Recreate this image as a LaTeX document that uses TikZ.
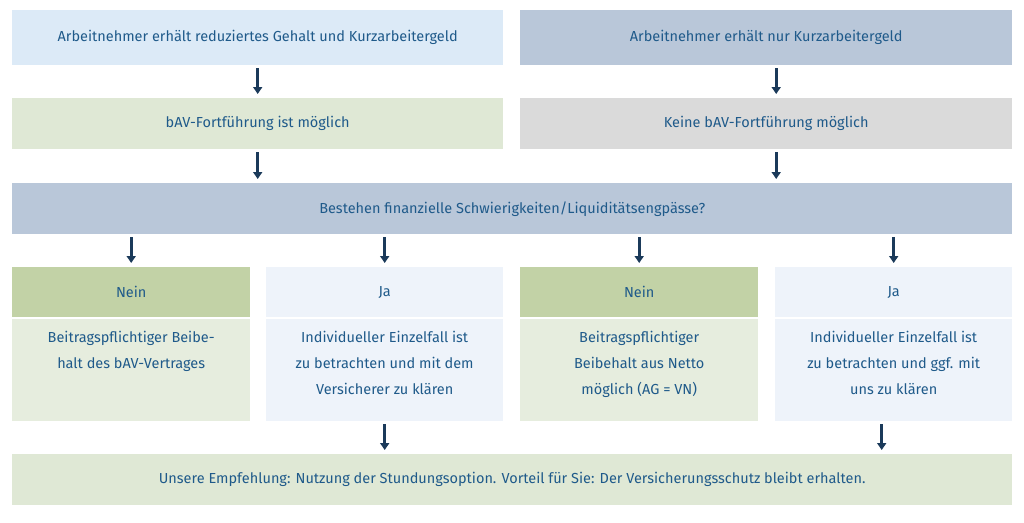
\documentclass[tikz,border=0pt]{standalone}
\usepackage{fontspec}
\setmainfont{Fira Sans}
\usetikzlibrary{arrows.meta}
\definecolor{txt}{HTML}{1F5A8A}
\definecolor{arr}{HTML}{1B3A5A}
\definecolor{lblue}{HTML}{DCEAF7}
\definecolor{gblue}{HTML}{B9C7D9}
\definecolor{lgreen}{HTML}{DFE8D5}
\definecolor{lgrey}{HTML}{DADADA}
\definecolor{hgreen}{HTML}{C2D2A6}
\definecolor{pblue}{HTML}{EEF3FA}
\definecolor{bgreen}{HTML}{E6EDDE}
\begin{document}
\begin{tikzpicture}[x=1pt,y=-1pt,
  box/.style={anchor=north west,inner sep=0pt,text=txt,align=center,font=\fontsize{14.5}{26}\selectfont},
  flow/.style={draw=arr,line width=2.6pt,-{Triangle[width=9pt,length=7pt]},shorten >=4pt,shorten <=3pt}]
\useasboundingbox (0,0) rectangle (1024,522);
\node[box,fill=lblue,minimum width=491pt,minimum height=55pt] (a1) at (12,10) {Arbeitnehmer erhält reduziertes Gehalt und Kurzarbeitergeld};
\node[box,fill=gblue,minimum width=492pt,minimum height=55pt] (a2) at (520,10) {Arbeitnehmer erhält nur Kurzarbeitergeld};
\node[box,fill=lgreen,minimum width=491pt,minimum height=51pt] (b1) at (12,98) {bAV-Fortführung ist möglich};
\node[box,fill=lgrey,minimum width=492pt,minimum height=51pt] (b2) at (520,98) {Keine bAV-Fortführung möglich};
\node[box,fill=gblue,minimum width=1000pt,minimum height=51pt] (q) at (12,183) {Bestehen finanzielle Schwierigkeiten/Liquiditätsengpässe?};
\node[box,fill=hgreen,minimum width=238pt,minimum height=50pt] (h1) at (12,267) {Nein};
\node[box,fill=pblue,minimum width=237pt,minimum height=50pt] (h2) at (266,267) {Ja};
\node[box,fill=hgreen,minimum width=238pt,minimum height=50pt] (h3) at (520,267) {Nein};
\node[box,fill=pblue,minimum width=237pt,minimum height=50pt] (h4) at (775,267) {Ja};
\node[box,fill=bgreen,minimum width=238pt,minimum height=102pt,anchor=north west] (c1) at (12,319) {};
\node[box,fill=pblue,minimum width=237pt,minimum height=102pt] (c2) at (266,319) {};
\node[box,fill=bgreen,minimum width=238pt,minimum height=102pt] (c3) at (520,319) {};
\node[box,fill=pblue,minimum width=237pt,minimum height=102pt] (c4) at (775,319) {};
\node[box,anchor=north] (t1) at (c1.north) [yshift=-12pt] {Beitragspflichtiger Beibe-\\halt des bAV-Vertrages};
\node[box,anchor=north] (t2) at (c2.north) [yshift=-12pt] {Individueller Einzelfall ist\\zu betrachten und mit dem\\Versicherer zu klären};
\node[box,anchor=north] (t3) at (c3.north) [yshift=-12pt] {Beitragspflichtiger\\Beibehalt aus Netto\\möglich (AG = VN)};
\node[box,anchor=north] (t4) at (c4.north) [yshift=-12pt] {Individueller Einzelfall ist\\zu betrachten und ggf. mit\\uns zu klären};
\node[box,fill=lgreen,minimum width=1000pt,minimum height=51pt] (e) at (12,454) {Unsere Empfehlung: Nutzung der Stundungsoption. Vorteil für Sie: Der Versicherungsschutz bleibt erhalten.};
\draw[flow] (a1.south) -- (b1.north);
\draw[flow] ([xshift=10pt]a2.south) -- ([xshift=10pt]b2.north);
\draw[flow] (b1.south) -- (b1.south |- q.north);
\draw[flow] ([xshift=10pt]b2.south) -- ([xshift=10pt]b2.south |- q.north);
\foreach \h in {h1,h2,h3,h4} \draw[flow] (q.south -| \h.north) -- (\h.north);
\draw[flow] (c2.south) -- (c2.south |- e.north);
\draw[flow] ([xshift=-12pt]c4.south) -- ([xshift=-12pt]c4.south |- e.north);
\end{tikzpicture}
\end{document}
